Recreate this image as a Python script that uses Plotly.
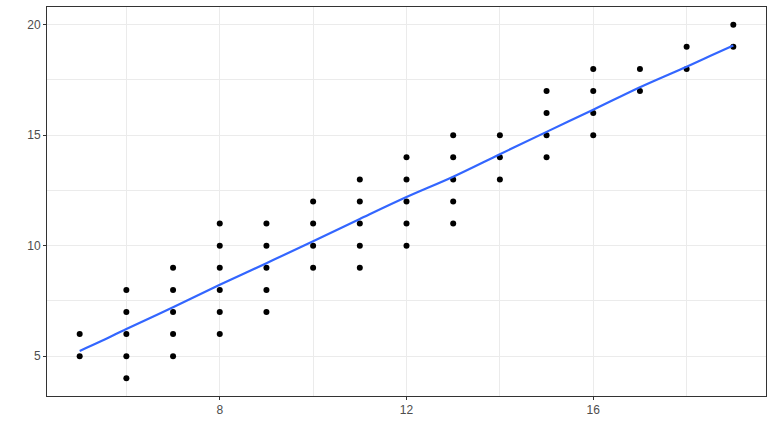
import plotly.graph_objects as go

# scatter points (x, y)
pts_x = [5, 5,
         6, 6, 6, 6, 6,
         7, 7, 7, 7, 7,
         8, 8, 8, 8, 8, 8,
         9, 9, 9, 9, 9,
         10, 10, 10, 10,
         11, 11, 11, 11, 11,
         12, 12, 12, 12, 12,
         13, 13, 13, 13, 13,
         14, 14, 14,
         15, 15, 15, 15,
         16, 16, 16, 16,
         17, 17,
         18, 18,
         19, 19]
pts_y = [5, 6,
         4, 5, 6, 7, 8,
         5, 6, 7, 8, 9,
         6, 7, 8, 9, 10, 11,
         7, 8, 9, 10, 11,
         9, 10, 11, 12,
         9, 10, 11, 12, 13,
         10, 11, 12, 13, 14,
         11, 12, 13, 14, 15,
         13, 14, 15,
         14, 15, 16, 17,
         15, 16, 17, 18,
         17, 18,
         18, 19,
         19, 20]

# smooth (loess) line
smooth_x = [5, 5.5, 6, 7, 8, 9, 10, 11, 12, 13, 14, 15, 16, 17, 18, 18.5, 19]
smooth_y = [5.24, 5.72, 6.23, 7.21, 8.23, 9.21, 10.2, 11.21, 12.2, 13.12, 14.14,
            15.15, 16.15, 17.17, 18.1, 18.58, 19.06]

x_ticks = [8, 12, 16]
x_minor = [6, 10, 14, 18]
y_ticks = [5, 10, 15, 20]
y_minor = [7.5, 12.5, 17.5]

fig = go.Figure()

fig.add_trace(go.Scatter(
    x=pts_x, y=pts_y,
    mode='markers',
    marker=dict(color='black', size=6),
    showlegend=False,
))

fig.add_trace(go.Scatter(
    x=smooth_x, y=smooth_y,
    mode='lines',
    line=dict(color='#3366FF', width=2.2, shape='spline'),
    showlegend=False,
))

axis_style = dict(
    showline=True, mirror=True, linecolor='#333333', linewidth=1,
    showgrid=True, gridcolor='#EBEBEB', gridwidth=1,
    ticks='outside', ticklen=3, tickcolor='#333333', tickwidth=1,
    tickfont=dict(family='Liberation Sans, Arial', size=12, color='#4D4D4D'),
    zeroline=False, automargin=False,
)

fig.update_layout(
    width=773, height=442,
    autosize=False,
    margin=dict(l=47, r=7, t=7, b=46, pad=0),
    paper_bgcolor='white',
    plot_bgcolor='white',
    xaxis=dict(range=[4.3, 19.7], tickmode='array', tickvals=x_ticks,
               minor=dict(tickmode='array', tickvals=x_minor, showgrid=True,
                          gridcolor='#EBEBEB', gridwidth=1, ticklen=0),
               **axis_style),
    yaxis=dict(range=[3.2, 20.8], tickmode='array', tickvals=y_ticks,
               minor=dict(tickmode='array', tickvals=y_minor, showgrid=True,
                          gridcolor='#EBEBEB', gridwidth=1, ticklen=0),
               **axis_style),
)

# drop the default page margin so the figure sits at the window corner
fig.write_html("out.html", config={'displayModeBar': False},
               post_script="document.body.style.margin='0';")
